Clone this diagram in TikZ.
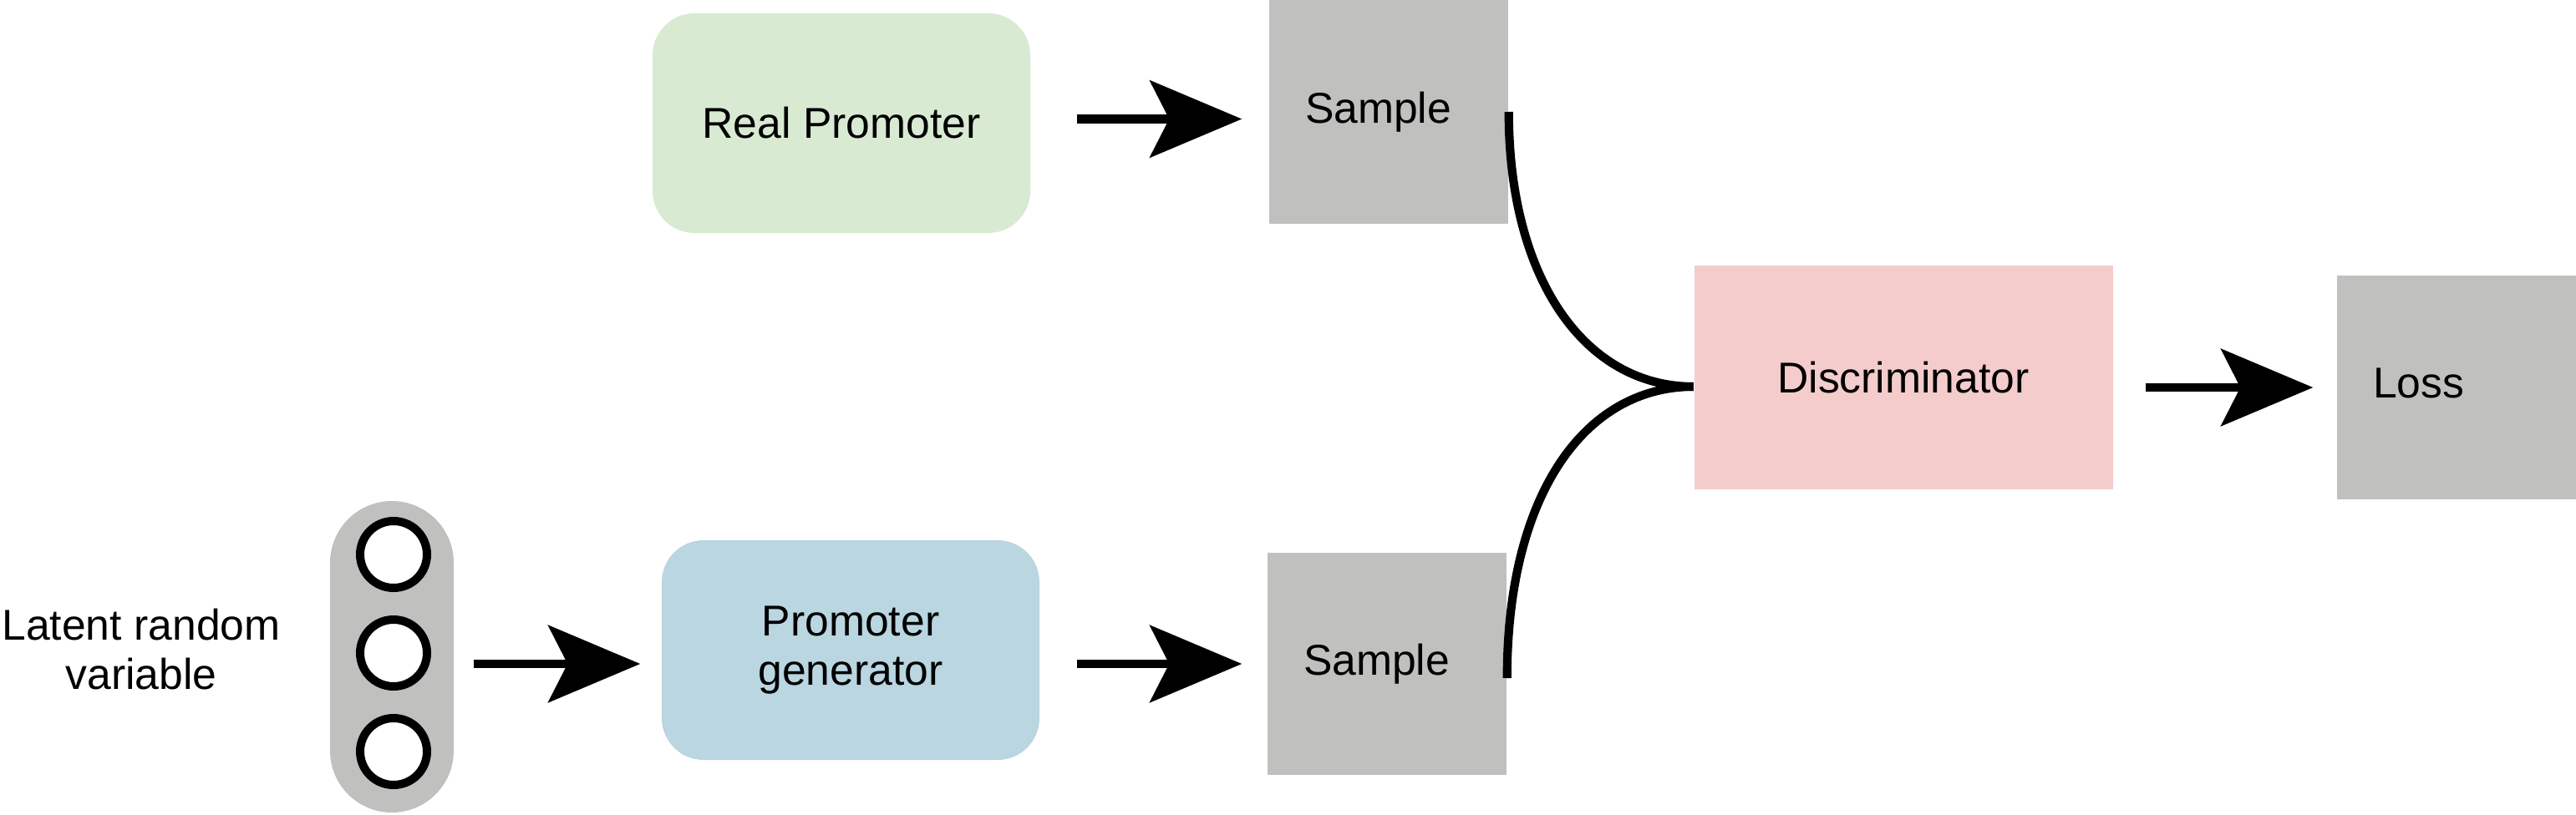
\documentclass[tikz,border=0pt]{standalone}
\usepackage{fontspec}
\setmainfont{Liberation Sans}
\usepackage{xcolor}
\usetikzlibrary{arrows.meta, positioning}

\definecolor{realgreen}{HTML}{D9EAD3}
\definecolor{genblue}{HTML}{B9D6E1}
\definecolor{discpink}{HTML}{F4CCCC}
\definecolor{samplegray}{HTML}{C0C0BE}

\begin{document}
\begin{tikzpicture}[
      every node/.style={font=\fontsize{14.7}{16.8}\selectfont, align=center},
      model/.style={rectangle, rounded corners=0.5cm, minimum width=4.52cm, minimum height=2.63cm},
      grayblock/.style={rectangle, fill=samplegray, text width=2cm, inner xsep=0.43cm, align=left, minimum height=2.66cm},
      noise/.style={circle, draw, fill=white, line width=0.1cm, minimum size=0.8cm},
      flow/.style={-{Stealth[length=1.1cm, width=0.92cm, inset=0.23cm]}, line width=3.1pt},
      merge/.style={line width=2.9pt}
    ]
      \useasboundingbox (0,0) rectangle (30.83,-9.76);

      % real branch
      \node[model, fill=realgreen] (real) at (10.07,-1.475) {Real Promoter};
      \node[grayblock, minimum height=2.68cm] (sampleA) at (16.62,-1.34) {Sample};

      % generated branch
      \node[fill=samplegray, rounded corners=0.74cm, minimum width=1.48cm, minimum height=3.73cm] (latent) at (4.69,-7.865) {};
      \node[noise] (z1) at (4.71,-6.64) {};
      \node[noise] (z2) at (4.71,-7.82) {};
      \node[noise] (z3) at (4.71,-9.00) {};
      \node (latentlabel) at (1.69,-7.78) {Latent random\\variable};
      \node[model, fill=genblue] (gen) at (10.18,-7.785) {Promoter\\generator};
      \node[grayblock] (sampleB) at (16.60,-7.95) {Sample};

      % discriminator and loss
      \node[model, rounded corners=0pt, fill=discpink, minimum width=5.01cm, minimum height=2.68cm] (disc) at (22.78,-4.52) {Discriminator};
      \node[grayblock, minimum height=2.68cm] (loss) at (29.40,-4.64) {\raisebox{0.1cm}{Loss}};
      \coordinate (join) at ([yshift=-0.11cm]disc.west);

      \draw[flow, shorten <=0.55cm, shorten >=0.32cm] ([yshift=0.05cm]real.east) -- ([yshift=0.05cm]real.east -| sampleA.west);
      \draw[flow, shorten <=0.23cm, shorten >=0.25cm] (latent.east |- sampleB.west) -- (gen.west |- sampleB.west);
      \draw[flow, shorten <=0.44cm, shorten >=0.30cm] (gen.east |- sampleB.west) -- (sampleB.west);
      \draw[flow, shorten <=0.39cm, shorten >=0.28cm] (disc.east |- loss.west) -- (loss.west);

      \draw[merge] (sampleA.east) to[out=-90, in=180, out distance=2.0cm, in distance=1.3cm] (join);
      \draw[merge] ([yshift=-0.17cm]sampleB.east) to[out=90, in=180, out distance=2.2cm, in distance=1.3cm] (join);
    \end{tikzpicture}
\end{document}
